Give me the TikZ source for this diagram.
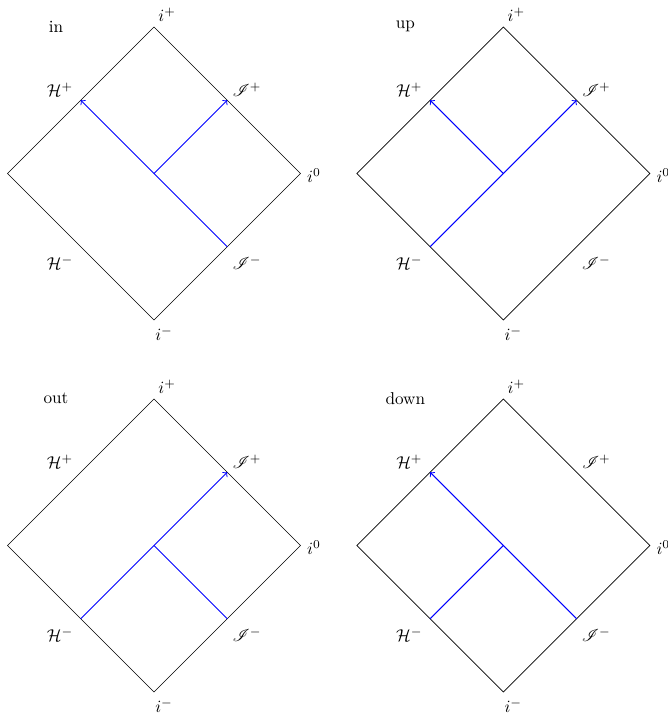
\documentclass[tikz,border=0pt]{standalone}
\usepackage{mathrsfs}
\tikzset{
  edge/.style={draw=black, line width=0.4pt},
  wave/.style={draw=blue, line width=0.6pt},
  lab/.style={inner sep=0pt, anchor=center},
  penrose/.pic={
    \coordinate (-T) at (0,-146.5);
    \coordinate (-L) at (-146.5,0);
    \coordinate (-R) at (146.5,0);
    \coordinate (-B) at (0,146.5);
    \coordinate (-C) at (0,0);
    \coordinate (-HP) at (-73.25,-73.25);
    \coordinate (-SP) at (73.25,-73.25);
    \coordinate (-HM) at (-73.25,73.25);
    \coordinate (-SM) at (73.25,73.25);
    \draw[edge] (-T) -- (-R) -- (-B) -- (-L) -- cycle;
    \node[lab] (-ip) at (13,-158.5) {$i^+$};
    \node[lab] (-io) at (160,2) {$i^0$};
    \node[lab] (-im) at (10,160) {$i^-$};
    \node[lab] (-hp) at (-94,-84) {$\mathcal{H}^+$};
    \node[lab] (-sp) at (93,-84) {$\mathscr{I}^+$};
    \node[lab] (-hm) at (-94,89) {$\mathcal{H}^-$};
    \node[lab] (-sm) at (93,89) {$\mathscr{I}^-$};
    \node[lab] (-title) at (-98,-147) {#1};
  }
}
\begin{document}
\begin{tikzpicture}[x=0.5828pt,y=-0.5828pt]
  \useasboundingbox (0,0) rectangle (668,714);
  \pic (pin) at (154,173.5) {penrose=in};
  \pic (pup) at (503.3,173.5) {penrose=up};
  \pic (pout) at (154,545.5) {penrose=out};
  \pic (pdown) at (503.3,545.5) {penrose=down};
  % in
  \draw[wave,->] (pin-SM) -- (pin-HP);
  \draw[wave,->] (pin-C) -- (pin-SP);
  % up
  \draw[wave,->] (pup-HM) -- (pup-SP);
  \draw[wave,->] (pup-C) -- (pup-HP);
  % out
  \draw[wave,->] (pout-HM) -- (pout-SP);
  \draw[wave] (pout-C) -- (pout-SM);
  % down
  \draw[wave,->] (pdown-SM) -- (pdown-HP);
  \draw[wave] (pdown-C) -- (pdown-HM);
\end{tikzpicture}
\end{document}
